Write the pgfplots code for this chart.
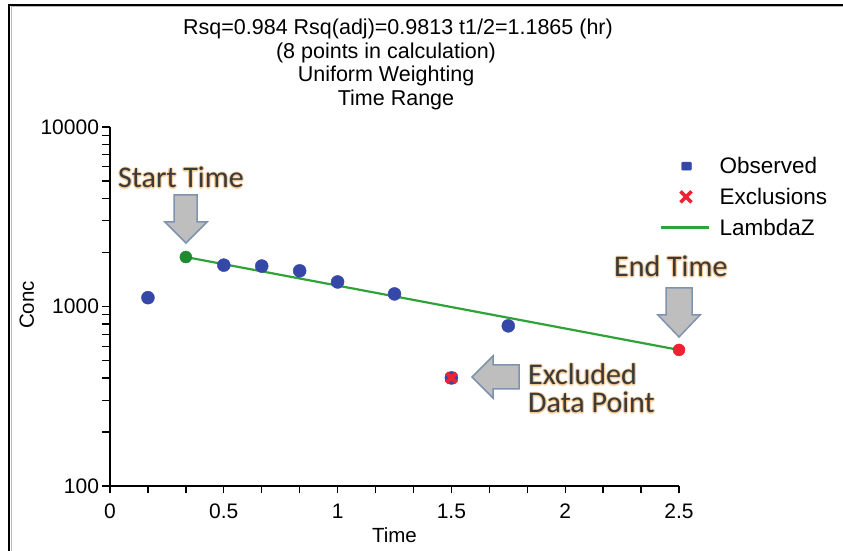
\documentclass[border=0pt]{standalone}
\usepackage{pgfplots}
\pgfplotsset{compat=1.18}
\usepackage{fontspec}
\setmainfont{Liberation Sans}
\newfontfamily\calib{Carlito}
\definecolor{obsblue}{HTML}{3548A8}
\definecolor{lzgreen}{HTML}{2FA33A}
\definecolor{stgreen}{HTML}{1F8A30}
\definecolor{exred}{HTML}{EE2233}
\definecolor{arrfill}{HTML}{BEBEBE}
\definecolor{arrdraw}{HTML}{7F93AE}
\definecolor{anntext}{HTML}{3A3A3A}
\definecolor{glowc}{HTML}{F5C48A}
\newcommand{\glowtext}[3]{%
  \foreach \dx/\dy in {-1.3/0,1.3/0,0/-1.3,0/1.3,-0.9/-0.9,0.9/0.9,-0.9/0.9,0.9/-0.9}{%
    \node[anchor=base west, text=glowc, opacity=0.55, inner sep=0pt, xshift=\dx pt, yshift=\dy pt, font=\calib\fontsize{30}{30}\selectfont] at (#1,#2) {#3};}%
  \node[anchor=base west, text=anntext, inner sep=0pt, font=\calib\fontsize{30}{30}\selectfont] at (#1,#2) {#3};}
\begin{document}
\begin{tikzpicture}
\useasboundingbox[fill=white] (0pt,0pt) rectangle (843pt,551pt);
\begin{axis}[
  at={(110pt,65pt)}, anchor=south west,
  scale only axis, width=569pt, height=359pt,
  xmin=0, xmax=2.5, ymin=100, ymax=10000,
  ymode=log, log ticks with fixed point,
  /pgf/number format/1000 sep={},
  /pgf/number format/assume math mode=true,
  axis x line*=bottom, axis y line*=left,
  axis line style={line width=2pt, black},
  minor x tick num=2,
  xticklabels={0,0.5,1,1.5,2,2.5}, xtick={0,0.5,1,1.5,2,2.5},
  tick align=outside,
  major tick length=7.5pt, minor tick length=7.5pt,
  every tick/.style={black, line width=1.3pt},
  minor y tick style={line width=1.3pt},
  tick label style={font=\fontsize{21}{21}\selectfont, text=black},
  x tick label style={yshift=-7pt},
  xlabel={Time}, ylabel={Conc},
  label style={font=\fontsize{20.5}{20.5}\selectfont},
  xlabel style={at={(axis description cs:0.5,-0.136)}, anchor=center},
  ylabel style={at={(axis description cs:-0.146,0.504)}, anchor=center, rotate=0},
  clip=false,
  legend style={at={(axis description cs:0.965,0.922)}, anchor=north west, draw=none, fill=none,
    font=\fontsize{22.5}{22.5}\selectfont, row sep=9pt, inner sep=0pt},
  legend cell align=left,
]
\addlegendimage{legend image code/.code={\path[draw=none] (0pt,0pt)--(57pt,0pt); \fill[obsblue, rounded corners=1pt] (21pt,-4pt) rectangle (31pt,4pt);}}
\addlegendentry{Observed}
\addlegendimage{legend image code/.code={\path[draw=none] (0pt,0pt)--(57pt,0pt); \draw[exred, line width=3.5pt] (20pt,-5.5pt)--(31pt,5.5pt) (20pt,5.5pt)--(31pt,-5.5pt);}}
\addlegendentry{Exclusions}
\addlegendimage{legend image code/.code={\path[draw=none] (0pt,0pt)--(57pt,0pt); \draw[lzgreen, line width=2.5pt] (0pt,0pt)--(48pt,0pt);}}
\addlegendentry{LambdaZ}
% LambdaZ line
\addplot[forget plot, lzgreen, line width=2.2pt] coordinates {(0.3333,1886) (2.5,573)};
% observed
\addplot[forget plot, only marks, mark=*, mark size=6.5pt, obsblue, mark options={draw=obsblue, fill=obsblue}] coordinates {
(0.1667,1120) (0.5,1700) (0.6667,1680) (0.8333,1580) (1,1370) (1.25,1175) (1.5,400) (1.75,780)};
% start time point
\addplot[forget plot, only marks, mark=*, mark size=6pt, mark options={draw=stgreen, fill=stgreen}] coordinates {(0.3333,1886)};
% end time point
\addplot[forget plot, only marks, mark=*, mark size=6pt, mark options={draw=exred, fill=exred}] coordinates {(2.5,573)};
% exclusion
\addplot[forget plot, only marks, mark=x, mark size=7pt, mark options={draw=exred, line width=4pt}] coordinates {(1.5,400)};
\end{axis}
\begin{scope}[x=1pt, y=-1pt, yshift=551pt]
  \draw[black, line width=2pt] (9,551)--(9,5)--(843,5);
  \draw[gray!55, line width=1pt] (11,551)--(11,7)--(843,7);
  % title
  \begin{scope}[every node/.style={anchor=base, inner sep=0pt, font=\fontsize{21.5}{21.5}\selectfont}]
    \node at (398,35) {Rsq=0.984 Rsq(adj)=0.9813 t1/2=1.1865 (hr)};
    \node at (386,59) {(8 points in calculation)};
    \node at (386,82) {Uniform Weighting};
    \node at (396,106) {Time Range};
  \end{scope}
  % arrows
  \begin{scope}[fill=arrfill, draw=arrdraw, line width=1.5pt, line join=miter]
    \filldraw (174,195)--(197,195)--(197,222)--(207,222)--(186,243)--(165,222)--(174,222)--cycle;
    \filldraw (666,288)--(692,288)--(692,315)--(700,315)--(679,337)--(658,315)--(666,315)--cycle;
    \filldraw (519,365)--(493,365)--(493,356)--(472,377)--(493,398)--(493,389)--(519,389)--cycle;
  \end{scope}
  \glowtext{118}{188}{Start Time}
  \glowtext{614}{277}{End Time}
  \glowtext{528}{385}{Excluded}
  \glowtext{528}{413}{Data Point}
\end{scope}
\end{tikzpicture}
\end{document}
